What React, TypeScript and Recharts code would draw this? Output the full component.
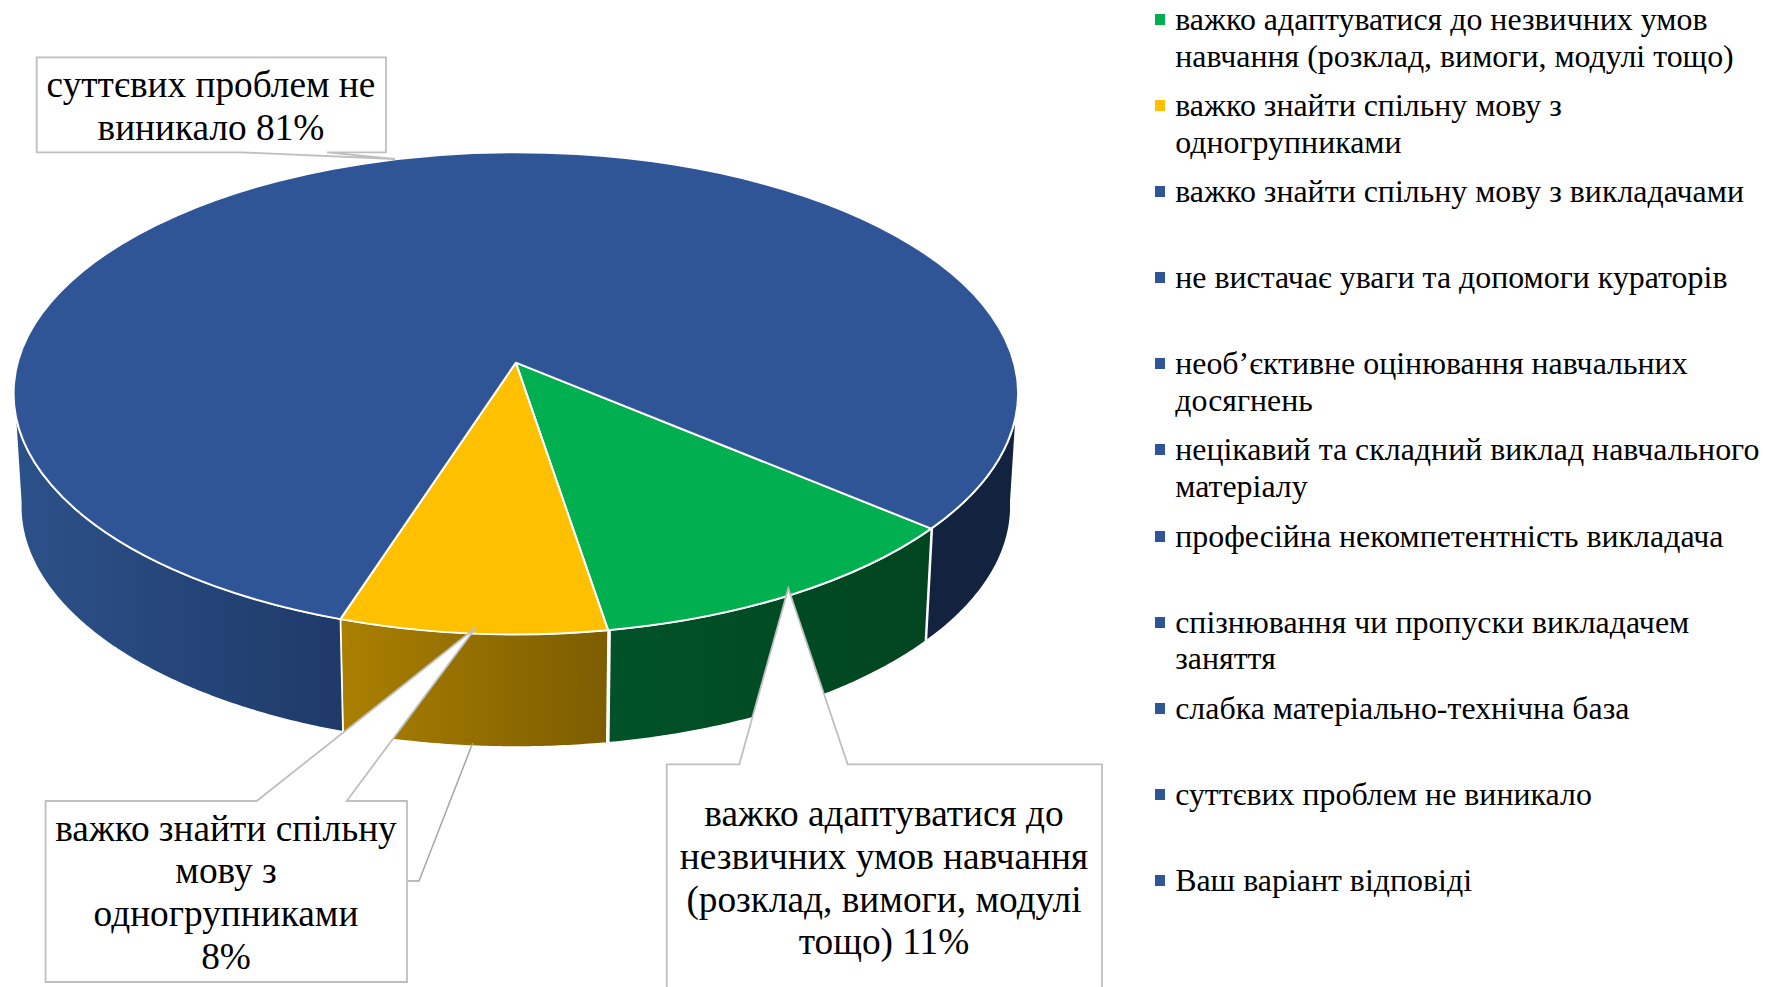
import React from "react";
import { PieChart, Pie, Legend } from "recharts";

const categories = [
  "важко адаптуватися до незвичних умов навчання (розклад, вимоги, модулі тощо)",
  "важко знайти спільну мову з одногрупниками",
  "важко знайти спільну мову з викладачами",
  "не вистачає уваги та допомоги кураторів",
  "необ’єктивне оцінювання навчальних досягнень",
  "нецікавий та складний виклад навчального матеріалу",
  "професійна некомпетентність викладача",
  "спізнювання чи пропуски викладачем заняття",
  "слабка матеріально-технічна база",
  "суттєвих проблем не виникало",
  "Ваш варіант відповіді",
];
const values = [11.3, 7.6, 0, 0, 0, 0, 0, 0, 0, 81.1, 0];
const sliceColors = [
  "#00b050", "#ffc000", "#2f5597", "#2f5597", "#2f5597", "#2f5597",
  "#2f5597", "#2f5597", "#2f5597", "#2f5597", "#2f5597",
];
// callout text per slice, the percent is added from the pie itself
const calloutLines: Record<number, string[]> = {
  0: ["важко адаптуватися до", "незвичних умов навчання", "(розклад, вимоги, модулі", "тощо)"],
  1: ["важко знайти спільну", "мову з", "одногрупниками", ""],
  9: ["суттєвих проблем не", "виникало"],
};

const data = categories.map((name, i) => ({ name, value: values[i], fill: sliceColors[i] }));

// look of the tilted pie
const RX = 502.2;
const RY = 241;
const CX = 515.8;
const CY = 393.3;
const TILT = 0.127;
const BOTTOM = { dx: 0, dy: 113, rx: 495, ry: 240.7 };

// wall gradient per visible run of the wall of each slice
const wallShades: Record<string, string[][]> = {
  "#00b050": [["#005229", "#004520"]],
  "#ffc000": [["#ab8000", "#7c5d00"]],
  "#2f5597": [["#2c5189", "#1f3a69"], ["#13233f", "#13233f"]],
};

const rad = (d: number) => (d * Math.PI) / 180;

// real pie angle -> angle on the perspective ellipse
const toEllipseAngle = (deg: number) => {
  const u = Math.cos(rad(deg));
  const v = Math.sin(rad(deg));
  const w = 1 + TILT * v;
  return (Math.atan2((v + TILT) / w, (u * Math.sqrt(1 - TILT * TILT)) / w) * 180) / Math.PI;
};

const PieSlice3D = (props: any) => {
  const { cx, cy, startAngle, endAngle, fill, index } = props;
  if (Math.abs(endAngle - startAngle) < 0.01) return null;

  const top = (t: number) => [cx + RX * Math.cos(rad(t)), cy - RY * Math.sin(rad(t))];
  const bottom = (t: number) => [
    cx + BOTTOM.dx + BOTTOM.rx * Math.cos(rad(t)),
    cy + BOTTOM.dy - BOTTOM.ry * Math.sin(rad(t)),
  ];

  const t0 = toEllipseAngle(startAngle);
  let t1 = toEllipseAngle(endAngle);
  while (t1 >= t0) t1 -= 360;
  const span = t0 - t1;

  // runs of the outline that face the viewer
  const runs: number[][] = [];
  let run: number[] = [];
  for (let t = t0; t >= t1 - 0.001; t -= 0.5) {
    if (Math.sin(rad(t)) <= 0.02) {
      run.push(t);
    } else if (run.length) {
      runs.push(run);
      run = [];
    }
  }
  if (run.length) runs.push(run);

  const [ax, ay] = [cx, cy - TILT * RY];
  const [x0, y0] = top(t0);
  const [x1, y1] = top(t1);
  const face = `M${ax},${ay} L${x0},${y0} A${RX},${RY} 0 ${span > 180 ? 1 : 0} 1 ${x1},${y1} Z`;

  return (
    <g>
      {runs.map((r, i) => {
        const pts = [...r.map(top), ...r.slice().reverse().map(bottom)];
        const xs = pts.map((p) => p[0]);
        const shades = wallShades[fill][i] || wallShades[fill][0];
        const id = `wall-${index}-${i}`;
        return (
          <g key={id}>
            <defs>
              <linearGradient id={id} gradientUnits="userSpaceOnUse" x1={Math.min(...xs)} x2={Math.max(...xs)} y1={0} y2={0}>
                <stop offset="0%" stopColor={shades[0]} />
                <stop offset="100%" stopColor={shades[1]} />
              </linearGradient>
            </defs>
            <path
              d={"M" + pts.map((p) => p.join(",")).join(" L") + " Z"}
              fill={`url(#${id})`}
              stroke="#ffffff"
              strokeWidth={1.5}
            />
          </g>
        );
      })}
      <path d={face} fill={fill} stroke="#ffffff" strokeWidth={2} strokeLinejoin="round" />
    </g>
  );
};

const calloutBoxes: Record<number, any> = {
  0: {
    outline: "666.7,764.3 739.3,764.3 788.3,588.3 847.7,764.3 1102,764.3 1102,1000 666.7,1000",
    textX: 884,
    baseline: 825.7,
  },
  1: {
    outline: "45.6,801 256.7,801 475.7,627.7 346.7,801 407,801 407,982 45.6,982",
    leader: "407,881 419,881 472.7,743",
    textX: 226,
    baseline: 840.5,
  },
  9: {
    outline: "36.7,57.3 386,57.3 386,152.3 327,152.3 395,159 240,152.3 36.7,152.3",
    textX: 211,
    baseline: 97.3,
  },
};

const Callout = (props: any) => {
  const box = calloutBoxes[props.index];
  if (!box) return null;
  const lines = calloutLines[props.index].slice();
  const pct = `${Math.round(props.percent * 100)}%`;
  // the percent goes on the last line, or on its own if that line was left empty
  const last = lines.length - 1;
  lines[last] = lines[last] ? `${lines[last]} ${pct}` : pct;
  return (
    <g>
      {box.leader && <polyline points={box.leader} fill="none" stroke="#a6a6a6" strokeWidth={1.5} />}
      <polygon points={box.outline} fill="#ffffff" stroke="#bfbfbf" strokeWidth={1.8} />
      <text textAnchor="middle" fontFamily="'Liberation Serif'" fontSize={37.3} fill="#000000">
        {lines.map((l, i) => (
          <tspan key={i} x={box.textX} y={box.baseline + i * 42.9}>
            {l}
          </tspan>
        ))}
      </text>
    </g>
  );
};

const LegendList = ({ payload }: any) => (
  <div style={{ fontFamily: "'Liberation Serif'", fontSize: 31.9, lineHeight: "36.6px", color: "#000" }}>
    {(payload || []).map((entry: any) => (
      <div key={entry.value} style={{ height: 86.1, position: "relative", paddingLeft: 20.7 }}>
        <span
          style={{
            position: "absolute",
            left: 0,
            top: 12,
            width: 10.5,
            height: 11,
            background: entry.color,
          }}
        />
        {entry.value}
      </div>
    ))}
  </div>
);

export default function App() {
  return (
    <div style={{ position: "absolute", left: 0, top: 0, width: 1765, height: 987, overflow: "hidden", background: "#fff" }}>
      <PieChart width={1765} height={987} margin={{ top: 0, right: 0, bottom: 0, left: 0 }}>
        <Pie
          data={data}
          dataKey="value"
          nameKey="name"
          cx={CX}
          cy={CY}
          outerRadius={RX}
          startAngle={-40}
          endAngle={-400}
          stroke="none"
          legendType="square"
          shape={PieSlice3D}
          label={Callout}
          labelLine={false}
          rootTabIndex={-1}
          isAnimationActive={false}
        />
        <Legend
          layout="vertical"
          align="right"
          verticalAlign="middle"
          content={LegendList}
          itemSorter={null}
          wrapperStyle={{ position: "absolute", left: 1154.5, top: 2, width: 610 }}
        />
      </PieChart>
    </div>
  );
}
